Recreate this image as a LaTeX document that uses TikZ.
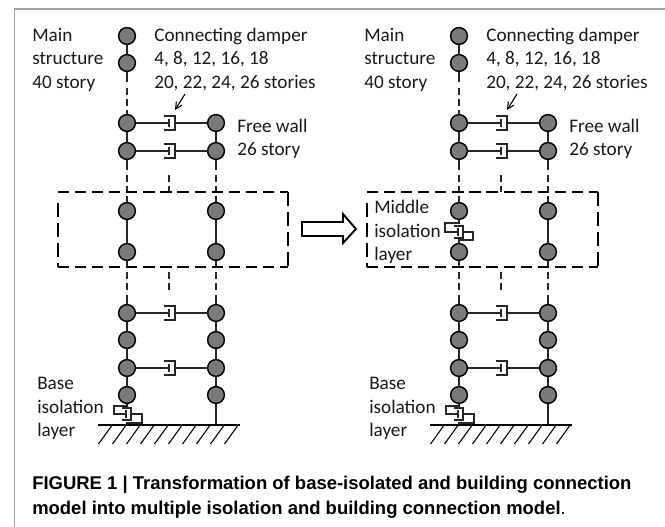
\documentclass[tikz,border=0pt]{standalone}
\usepackage{fontspec}
\setmainfont{Carlito}
\newfontfamily\capfont{Liberation Sans}
\usetikzlibrary{arrows.meta}
\definecolor{massgray}{HTML}{7A7A7A}
\definecolor{framegray}{HTML}{A0A0A0}
\tikzset{
  x=0.75pt,y=-0.75pt,
  mass/.style={circle,draw=black,fill=massgray,line width=1.1pt,minimum size=12.6pt,inner sep=0pt},
  rod/.style={line width=1.1pt,draw=black!85},
  brokenrod/.style={line width=1.1pt,draw=black!85,dash pattern=on 5pt off 3.4pt},
  damperline/.style={line width=1.1pt,draw=black!85},
  layerh/.style={line width=2.2pt,draw=black,dash pattern=on 8.4pt off 4.4pt},
  layerv/.style={line width=2.2pt,draw=black,dash pattern=on 10.5pt off 4.5pt},
  lbl/.style={font=\fontsize{14.4}{17.6}\selectfont,align=left,anchor=north west,inner sep=0pt,text=black!90},
  capline/.style={font=\capfont\bfseries\fontsize{13.85}{16}\selectfont,anchor=base west,inner sep=0pt},
}
\begin{document}
\begin{tikzpicture}
\useasboundingbox (0,0) rectangle (665,527);
\draw[line width=0.9pt,draw=framegray] (14.5,527) -- (14.5,9) -- (665,9);

\foreach \side/\dx in {A/0,B/332}{
\begin{scope}[shift={(\dx,0)}]
  % masses
  \node[mass] (\side m1) at (127,36) {};
  \node[mass] (\side m2) at (127,63) {};
  \node[mass] (\side m3) at (127,123) {};
  \node[mass] (\side m4) at (127,151) {};
  \node[mass] (\side m5) at (127,211) {};
  \node[mass] (\side m6) at (127,252) {};
  \node[mass] (\side m7) at (127,313) {};
  \node[mass] (\side m8) at (127,340) {};
  \node[mass] (\side m9) at (127,368) {};
  \node[mass] (\side m10) at (127,395) {};
  \node[mass] (\side w3) at (216,123) {};
  \node[mass] (\side w4) at (216,151) {};
  \node[mass] (\side w5) at (216,211) {};
  \node[mass] (\side w6) at (216,252) {};
  \node[mass] (\side w7) at (216,313) {};
  \node[mass] (\side w8) at (216,340) {};
  \node[mass] (\side w9) at (216,368) {};
  \node[mass] (\side w10) at (216,395) {};
  % solid columns
  \draw[rod] (\side m1) -- (\side m2);
  \draw[rod] (\side m3) -- (\side m4);
  \draw[rod] (\side m7) -- (\side m8);
  \draw[rod] (\side m8) -- (\side m9);
  \draw[rod] (\side m9) -- (\side m10);
  \draw[rod] (\side w3) -- (\side w4);
  \draw[rod] (\side w5) -- (\side w6);
  \draw[rod] (\side w7) -- (\side w8);
  \draw[rod] (\side w8) -- (\side w9);
  \draw[rod] (\side w9) -- (\side w10);
  % broken columns
  \draw[rod] (\side m2) -- (127,82);
  \draw[brokenrod] (127,88) -- (127,108);
  \draw[rod] (127,110) -- (\side m3);
  \foreach \c/\n/\nb/\nc/\nd in {127/m4/m5/m6/m7,216/w4/w5/w6/w7}{
    \draw[rod] (\side\n) -- (\c,170);
    \draw[brokenrod] (\c,175) -- (\c,192);
    \draw[rod] (\c,196) -- (\side\nb);
    \draw[rod] (\side\nc) -- (\c,267);
    \draw[brokenrod] (\c,272) -- (\c,291);
    \draw[rod] (\c,295) -- (\side\nd);
  }
  \draw[brokenrod] (169,175) -- (169,192);
  \draw[brokenrod] (169,272) -- (169,291);
  % connecting dampers
  \foreach \a/\b/\y in {m3/w3/123,m4/w4/151,m7/w7/313,m9/w9/368}{
    \draw[damperline] (\side\a) -- (169,\y);
    \draw[damperline] (169,\y-4) -- (169,\y+4);
    \draw[damperline] (164,\y-7) -- (175,\y-7) -- (175,\y+7) -- (164,\y+7);
    \draw[damperline] (175,\y) -- (\side\b);
  }
  % pointer
  \draw[line width=0.8pt,-{Straight Barb[length=5pt,width=5pt]}] (185,94) -- (175,110);
  % ground
  \coordinate (\side g0) at (98,425);
  \coordinate (\side g1) at (240,425);
  \coordinate (\side g2) at (216,425);
  \draw[rod] (\side w10) -- (\side g2);
  \draw[line width=2.2pt] (\side g0) -- (\side g1);
  \foreach \k in {0,...,9}{
    \draw[line width=0.8pt] (98.5+14*\k,444) -- (111.5+14*\k,426);
  }
  % base isolator
  \draw[damperline] (\side m10) -- (127,406) -- (114,406) -- (114,414) -- (126,414);
  \draw[damperline] (126,410) -- (126,418);
  \draw[damperline] (122,408) -- (131,408) -- (131,420) -- (122,420);
  \draw[damperline] (131,414) -- (142,414) -- (142,423) -- (127,423) -- (127,425);
  % labels
  \node[lbl] (\side t1) at (32,27.6) {Main\\structure\\40 story};
  \node[lbl] (\side t2) at (154,27.6) {Connecting damper\\4, 8, 12, 16, 18\\20, 22, 24, 26 stories};
  \node[lbl] (\side t3) at (237,118.5) {Free wall\\26 story};
  \node[lbl] (\side t4) at (37,377) {Base\\isolation\\layer};
\end{scope}
}
% layer boxes
\foreach \l/\r in {58/288,367/598}{
  \draw[layerh] (\l,192) -- (\r,192);
  \draw[layerh] (\l,267) -- (\r,267);
  \draw[layerv] (\l,203) -- (\l,267);
  \draw[layerv] (\r,192) -- (\r,267);
}
% solid rods in the layer of the first frame
\draw[rod] (Am5) -- (Am6);
% middle isolator of the second frame
\draw[damperline] (Bm5) -- (459,223) -- (445,223) -- (445,232) -- (458,232);
\draw[damperline] (458,228) -- (458,236);
\draw[damperline] (454,226) -- (463,226) -- (463,238) -- (454,238);
\draw[damperline] (463,232) -- (473,232) -- (473,240) -- (459,240) -- (Bm6);
\node[lbl] (Bt5) at (374,200) {Middle\\isolation\\layer};
% transformation arrow
\draw[line width=1.4pt,line join=miter] (302,222) -- (343,222) -- (343,214) -- (356,229) -- (343,243) -- (343,236) -- (302,236) -- cycle;
% caption
\node[capline] (cap1) at (32,489.5) {FIGURE 1 | Transformation of base-isolated and building connection};
\node[capline] (cap2) at (32,515) {model into multiple isolation and building connection model{\mdseries.}};
\end{tikzpicture}
\end{document}
